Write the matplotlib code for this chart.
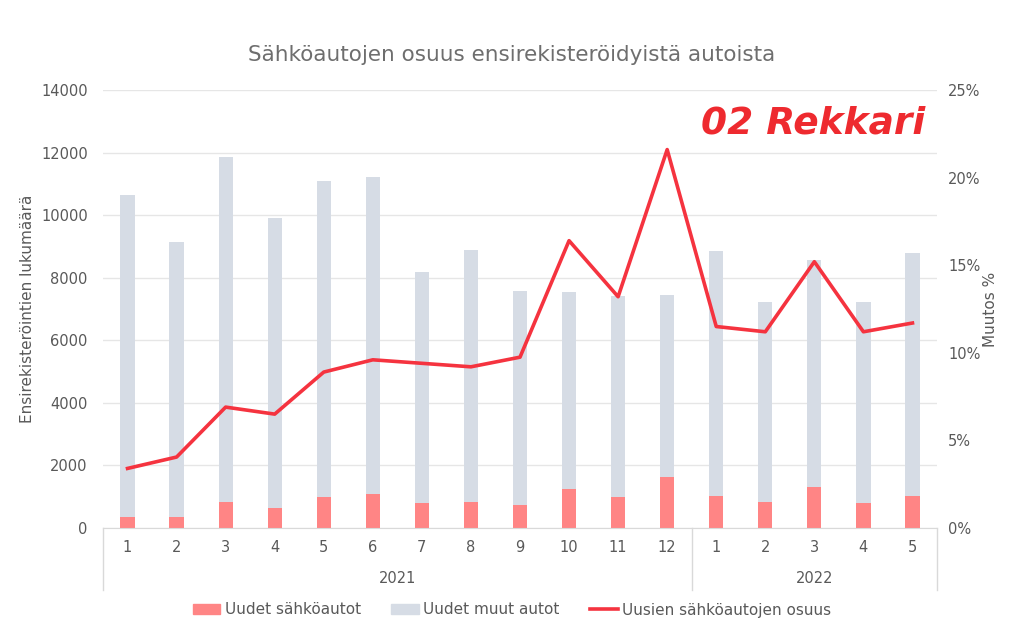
import matplotlib.pyplot as plt
import matplotlib.patches as mpatches
import matplotlib.lines as mlines
import numpy as np

# Data
kuukaudet = ['1', '2', '3', '4', '5', '6', '7', '8', '9', '10', '11', '12',
             '1', '2', '3', '4', '5']
vuodet = ['2021', '2022']
kuukausia_vuodessa = [12, 5]
sahkoautot = [350, 350, 830, 640, 990, 1090, 800, 830, 730, 1250, 990, 1630,
              1020, 830, 1310, 800, 1020]
muut_autot = [10300, 8800, 11020, 9260, 10110, 10140, 7380, 8050, 6840, 6290,
              6430, 5830, 7830, 6390, 7260, 6420, 7760]
osuus = [3.4, 4.05, 6.9, 6.5, 8.9, 9.6, 9.4, 9.2, 9.75, 16.4, 13.2, 21.6,
         11.5, 11.2, 15.2, 11.2, 11.7]

c_ev = '#FF8585'
c_muut = '#D6DCE5'
c_line = '#F5333F'
c_text = '#595959'
c_grid = '#E6E6E6'

plt.rcParams['font.family'] = ['DejaVu Sans']

fig = plt.figure(figsize=(10.24, 6.36), dpi=100)
ax = fig.add_axes([103 / 1024, 1 - 528 / 636, 834 / 1024, 438 / 636])
ax2 = ax.twinx()

x = np.arange(len(kuukaudet))
w = 0.29
ax.bar(x, sahkoautot, w, color=c_ev, zorder=2)
ax.bar(x, muut_autot, w, bottom=sahkoautot, color=c_muut, zorder=2)
ax2.plot(x, osuus, color=c_line, linewidth=2.6, zorder=3)

ax.set_xlim(-0.5, len(x) - 0.5)
ax.set_ylim(0, 14000)
ax.set_yticks(np.arange(0, 14001, 2000))
ax.tick_params(axis='y', length=0, labelsize=10.5, labelcolor=c_text, pad=11)
ax.yaxis.grid(True, color=c_grid, linewidth=1, zorder=0)
ax.set_axisbelow(True)
ax2.set_ylim(0, 25)
ax2.set_yticks(np.arange(0, 26, 5))
ax2.set_yticklabels([f'{v}%' for v in range(0, 26, 5)])
ax2.tick_params(axis='y', length=0, labelsize=10.5, labelcolor=c_text, pad=8)

for a in (ax, ax2):
    for s in a.spines.values():
        s.set_visible(False)
ax.spines['bottom'].set_visible(True)
ax.spines['bottom'].set_color('#D9D9D9')

ax.set_xticks(x)
ax.set_xticklabels(kuukaudet)
ax.tick_params(axis='x', length=0, labelsize=10.5, labelcolor=c_text, pad=9)

# Two-level category axis: year labels and separators
tr = ax.get_xaxis_transform()
raja = -0.5
ax.plot([raja, raja], [0, -0.142], transform=tr, color='#D9D9D9', lw=1, clip_on=False)
for vuosi, n in zip(vuodet, kuukausia_vuodessa):
    keski = raja + n / 2
    raja += n
    ax.text(keski, -0.115, vuosi, transform=tr, ha='center', va='center',
            fontsize=10.5, color=c_text)
    ax.plot([raja, raja], [0, -0.142], transform=tr, color='#D9D9D9', lw=1,
            clip_on=False)

ax.set_ylabel('Ensirekisteröintien lukumäärä', fontsize=11, color=c_text, labelpad=4)
ax2.set_ylabel('Muutos %', fontsize=11, color=c_text, labelpad=2)

fig.text(0.5, 1 - 55 / 636, 'Sähköautojen osuus ensirekisteröidyistä autoista',
         ha='center', va='center', fontsize=15.5, color='#6E6E6E')

# Logo
fig.text(925 / 1024, 1 - 123 / 636, '02 Rekkari', ha='right', va='center',
         fontsize=27, fontweight='heavy', style='italic', color='#EE2A2F',
         bbox=dict(facecolor='white', edgecolor='none', pad=6))

kahvat = [mpatches.Patch(color=c_ev, label='Uudet sähköautot'),
          mpatches.Patch(color=c_muut, label='Uudet muut autot'),
          mlines.Line2D([], [], color=c_line, lw=2.6, label='Uusien sähköautojen osuus')]
leg = fig.legend(handles=kahvat, loc='center', bbox_to_anchor=(0.5, 1 - 610 / 636),
                 ncol=3, frameon=False, fontsize=11, handlelength=1.8,
                 handleheight=0.6, columnspacing=2.0, handletextpad=0.3)
for t in leg.get_texts():
    t.set_color(c_text)

plt.savefig('out.png', dpi=100)
